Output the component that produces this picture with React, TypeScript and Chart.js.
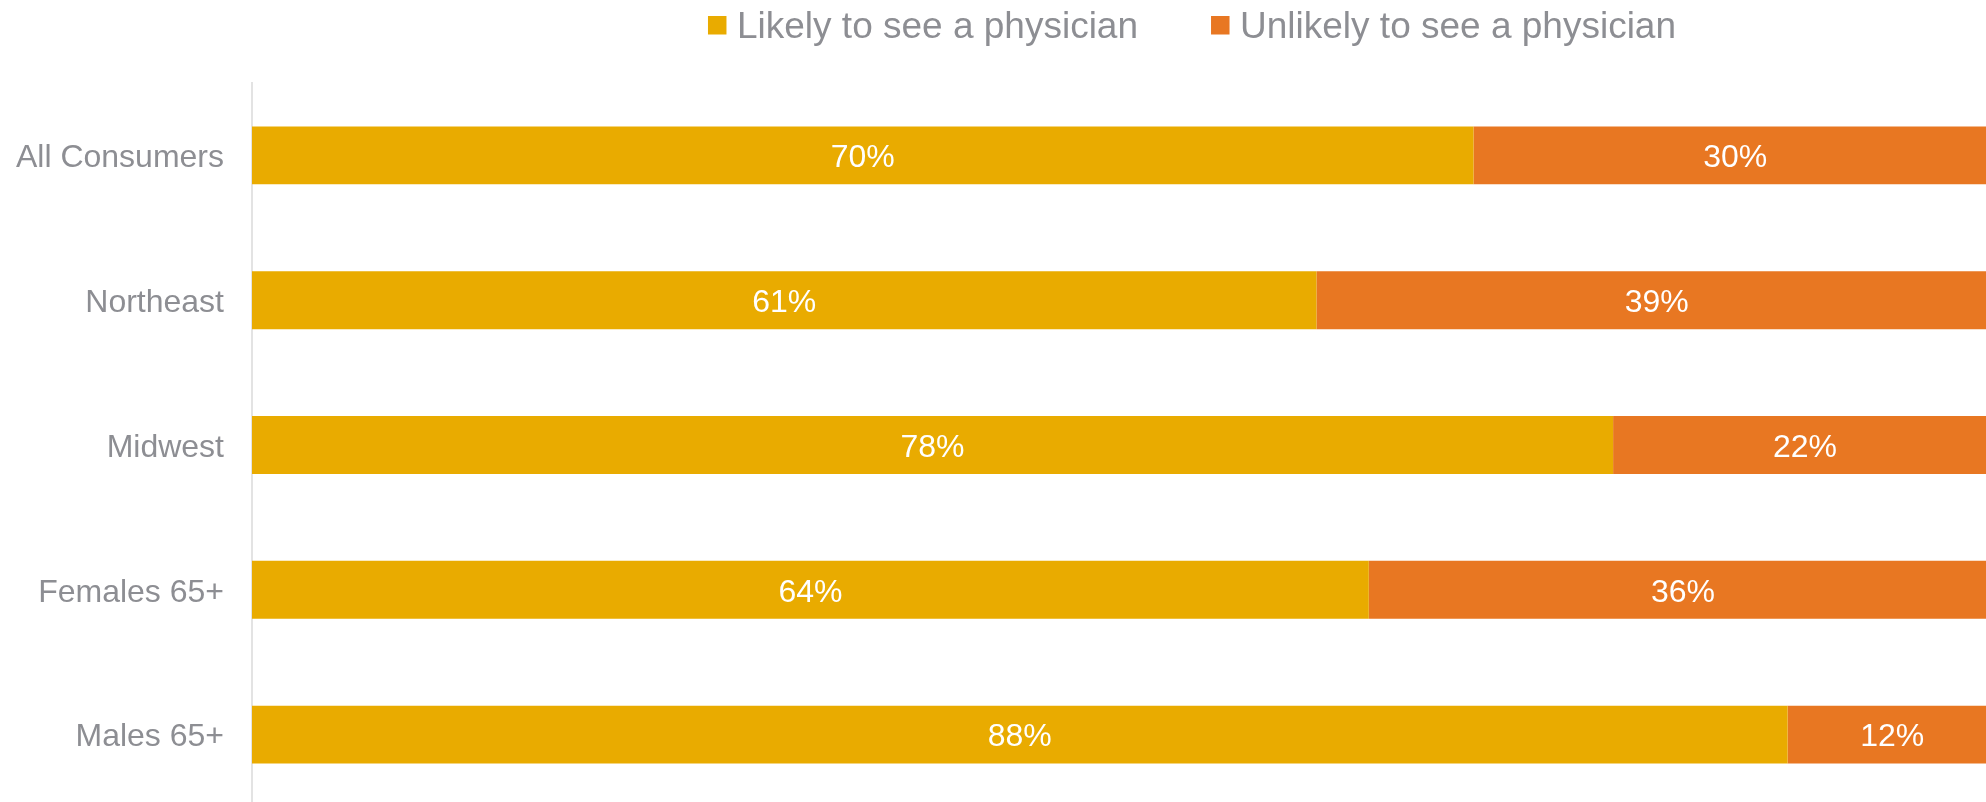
import React, { useEffect, useRef } from "react";
import { Chart, registerables } from "chart.js";

Chart.register(...registerables);

const categories = ["All Consumers", "Northeast", "Midwest", "Females 65+", "Males 65+"];
const likelyValues = [70, 61, 78, 64, 88];
const unlikelyValues = [30, 39, 22, 36, 12];
const seriesNames = ["Likely to see a physician", "Unlikely to see a physician"];
const seriesColors = ["#E9AB00", "#E87722"];

const FONT = "'Liberation Sans', Arial, Helvetica, sans-serif";
const GRAY = "#8d8e93";

const valueLabelPlugin = {
  id: "valueLabels",
  afterDatasetsDraw(chart: any) {
    const ctx = chart.ctx;
    ctx.save();
    ctx.font = `32px ${FONT}`;
    ctx.fillStyle = "#ffffff";
    ctx.textAlign = "center";
    ctx.textBaseline = "middle";
    chart.data.datasets.forEach((ds: any, i: number) => {
      const meta = chart.getDatasetMeta(i);
      meta.data.forEach((el: any, j: number) => {
        const cx = (el.x + el.base) / 2;
        ctx.fillText(`${ds.data[j]}%`, cx, el.y + 3);
      });
    });
    ctx.restore();
  },
};

const customLegendPlugin = {
  id: "customLegend",
  afterDraw(chart: any) {
    const ctx = chart.ctx;
    ctx.save();
    ctx.font = `37px ${FONT}`;
    ctx.textBaseline = "alphabetic";
    ctx.textAlign = "left";
    const box = 18.5;
    const textGap = 29;
    const itemGap = 73;
    const items = chart.data.datasets.map((ds: any) => ({
      label: ds.label,
      color: ds.backgroundColor,
      w: ctx.measureText(ds.label).width,
    }));
    let total = 0;
    items.forEach((it: any, i: number) => {
      total += textGap + it.w + (i < items.length - 1 ? itemGap : 0);
    });
    const centerX = 1192;
    let x = centerX - total / 2;
    items.forEach((it: any) => {
      ctx.fillStyle = it.color;
      ctx.fillRect(x, 16, box, box);
      ctx.fillStyle = GRAY;
      ctx.fillText(it.label, x + textGap, 38);
      x += textGap + it.w + itemGap;
    });
    ctx.restore();
  },
};

export default function App() {
  const canvasRef = useRef<HTMLCanvasElement | null>(null);

  useEffect(() => {
    if (!canvasRef.current) return;
    const chart = new Chart(canvasRef.current, {
      type: "bar",
      data: {
        labels: categories,
        datasets: [
          {
            label: seriesNames[0],
            data: likelyValues,
            backgroundColor: seriesColors[0],
            barPercentage: 0.4,
            categoryPercentage: 1,
          },
          {
            label: seriesNames[1],
            data: unlikelyValues,
            backgroundColor: seriesColors[1],
            barPercentage: 0.4,
            categoryPercentage: 1,
          },
        ],
      },
      options: {
        indexAxis: "y",
        animation: false,
        responsive: true,
        maintainAspectRatio: false,
        layout: { padding: { top: 83, left: 0, right: 0, bottom: 0 } },
        plugins: {
          legend: { display: false },
          tooltip: { enabled: false },
        },
        scales: {
          x: {
            stacked: true,
            min: 0,
            max: 100,
            display: false,
          },
          y: {
            stacked: true,
            grid: { display: false, drawTicks: false },
            border: { display: true, color: "#e3e3e3", width: 2 },
            ticks: {
              color: GRAY,
              font: { family: FONT, size: 32 },
              padding: 28,
              labelOffset: 3,
            },
            afterFit: (scale: any) => {
              scale.width = 252;
              scale.paddingTop = 0;
              scale.paddingBottom = 0;
            },
          },
        },
      },
      plugins: [valueLabelPlugin, customLegendPlugin],
    });
    return () => chart.destroy();
  }, []);

  return (
    <div
      style={{
        position: "fixed",
        left: 0,
        top: 0,
        width: 1997,
        height: 807,
        background: "#ffffff",
      }}
    >
      <canvas ref={canvasRef} />
    </div>
  );
}
